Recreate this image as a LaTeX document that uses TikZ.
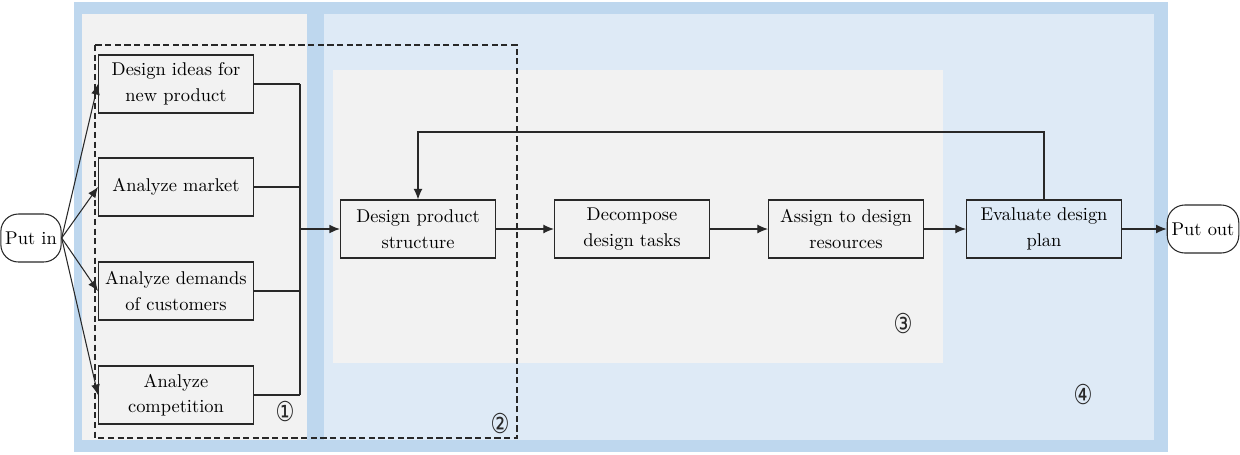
\documentclass[tikz,border=0pt]{standalone}
\usepackage{fontspec}
\newfontfamily\circfont{DejaVu Sans}
\usetikzlibrary{arrows.meta, positioning, calc}
\definecolor{frameblue}{RGB}{190,215,238}
\definecolor{paleblue}{RGB}{222,234,246}
\definecolor{palegray}{RGB}{242,242,242}
\definecolor{linegray}{RGB}{40,40,40}

\begin{document}
\begin{tikzpicture}[x=0.02cm, y=-0.02cm,
  box/.style={rectangle, draw=linegray, semithick, fill=palegray, text width=3.0cm, align=center,
              font=\fontsize{10.5}{14.5}\selectfont, minimum width=3.1cm, minimum height=1.16cm, inner sep=1pt},
  evbox/.style={box, fill=paleblue},
  term/.style={rectangle, rounded corners=10pt, draw=linegray, semithick, fill=white,
               font=\fontsize{10.5}{14.5}\selectfont, minimum height=0.96cm, inner xsep=2.5pt},
  num/.style={font=\circfont\fontsize{12}{14}\selectfont, text=linegray, yscale=1.3},
  arr/.style={-{Latex[length=6pt,width=5pt]}, semithick, draw=linegray},
  bus/.style={semithick, draw=linegray}
]
\useasboundingbox (0,0) rectangle (1240,454);
\fill[frameblue] (74,2) rectangle (1168,452);
\fill[palegray] (82,14) rectangle (307,440);
\fill[paleblue] (324,14) rectangle (1154,440);
\fill[palegray] (333,70) rectangle (943,363);
\draw[linegray, semithick, dash pattern=on 3.5pt off 2pt] (95,45) rectangle (517,438);

\node[term] (in) at (31,238) {Put in};
\node[box] (idea) at (176,84) {Design ideas for\\new product};
\node[box] (mkt)  at (176,187) {Analyze market};
\node[box] (dem)  at (176,291) {Analyze demands\\of customers};
\node[box] (comp) at (176,395) {Analyze\\competition};
\node[box] (dps)  at (418,229) {Design product\\structure};
\node[box] (dec)  at (632,229) {Decompose\\design tasks};
\node[box] (asg)  at (846,229) {Assign to design\\resources};
\node[evbox] (eva) at (1044,229) {Evaluate design\\plan};
\node[term] (out) at (1203,229) {Put out};

\node[num] (n1) at (285,412) {①};
\node[num] (n2) at (500,424) {②};
\node[num] (n3) at (903,324) {③};
\node[num] (n4) at (1083,395) {④};

\foreach \b in {idea,mkt,dem,comp}
  \draw[arr] (in.east) -- (\b.west);
\coordinate (jn) at (300,229);
\foreach \b in {idea,mkt,dem,comp}
  \draw[bus] (\b.east) -- (\b.east -| jn);
\draw[bus] (idea.east -| jn) -- (comp.east -| jn);
\draw[arr, thick] (jn) -- (dps.west);
\draw[arr] (dps) -- (dec);
\draw[arr] (dec) -- (asg);
\draw[arr] (asg) -- (eva);
\draw[arr] (eva) -- (out);
\draw[arr] (eva.north) |- (418,132) -- (dps.north);
\end{tikzpicture}
\end{document}
